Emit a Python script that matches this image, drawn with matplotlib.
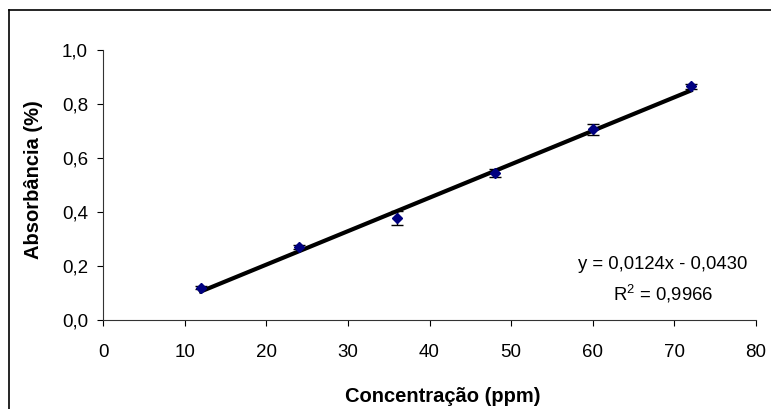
import numpy as np
import matplotlib.pyplot as plt
from matplotlib.lines import Line2D

plt.rcParams['font.family'] = ['Liberation Sans', 'DejaVu Sans']
plt.rcParams['mathtext.fontset'] = 'custom'
plt.rcParams['mathtext.rm'] = 'Liberation Sans'

# data
conc = [12, 24, 36, 48, 60, 72]
absorb = [0.120, 0.270, 0.378, 0.545, 0.706, 0.865]
err = [0.007, 0.008, 0.027, 0.016, 0.020, 0.010]
slope, intercept = 0.0124, -0.0430
r2 = 0.9966

x_ticks = [0, 10, 20, 30, 40, 50, 60, 70, 80]
y_ticks = [0.0, 0.2, 0.4, 0.6, 0.8, 1.0]

fig = plt.figure(figsize=(7.71, 4.09), dpi=100)
ax = fig.add_axes([0.1336, 0.2176, 0.847, 0.6601])

# trend line
xl = np.array([conc[0], conc[-1]])
ax.plot(xl, slope*xl + intercept, color='black', lw=3, zorder=3)

ax.errorbar(conc, absorb, yerr=err, fmt='D', color='#000080', mec='#000080',
            ms=5.4, ecolor='black', elinewidth=1, capsize=4, capthick=1, zorder=4)

ax.set_xlim(0, 80)
ax.set_ylim(0, 1.0)
ax.set_xticks(x_ticks)
ax.set_yticks(y_ticks)
ax.set_yticklabels([f'{v:.1f}'.replace('.', ',') for v in y_ticks])
ax.tick_params(direction='out', length=4.3, width=0.8, labelsize=13.5, colors='black')
ax.tick_params(axis='x', pad=13)
ax.tick_params(axis='y', pad=6.5)
for s in ['top', 'right']:
    ax.spines[s].set_visible(False)
for s in ['left', 'bottom']:
    ax.spines[s].set_linewidth(0.8)
    ax.spines[s].set_color('#333333')
ax.set_clip_on(False)

fig.text(0.044, 0.561, 'Absorbância (%)', rotation=90, ha='center', va='center',
         fontsize=14.5, fontweight='bold')
fig.text(0.5746, 0.0161, 'Concentração (ppm)', ha='center', va='baseline',
         fontsize=14.5, fontweight='bold')

ax.text(68.6, 0.189, 'y = 0,0124x - 0,0430', ha='center', va='baseline', fontsize=13.3)
ax.text(68.6, 0.074, 'R$^2$ = ' + f'{r2:.4f}'.replace('.', ','), ha='center',
        va='baseline', fontsize=13.3)

# outer chart frame (cropped)
fig.add_artist(Line2D([0.0117, 0.0117], [0, 0.976], color='black', lw=1.2,
                      transform=fig.transFigure))
fig.add_artist(Line2D([0.0117, 1.0], [0.976, 0.976], color='black', lw=1.2,
                      transform=fig.transFigure))

fig.savefig('out.png', dpi=100)
